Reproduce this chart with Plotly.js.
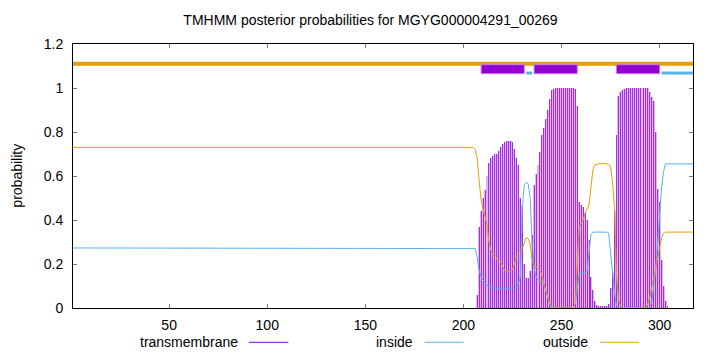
<!DOCTYPE html>
<html>
<head>
<meta charset="utf-8">
<script src="https://cdn.plot.ly/plotly-3.0.1.min.js"></script>
<style>
  html, body { margin: 0; padding: 0; background: #fff; }
  #chart { width: 720px; height: 352px; }
</style>
</head>
<body>
<div id="chart"></div>
<script>
// ---- data ----
const seqLength = 317;
const seqStart = 1;

// transmembrane posterior probability per residue, starting at residue 207
const tmFirstResidue = 207;
const tmProb = [
  0.06, 0.37, 0.44, 0.50, 0.535, 0.60, 0.66, 0.68, 0.69, 0.70,
  0.70, 0.715, 0.73, 0.745, 0.755, 0.76, 0.76, 0.76, 0.755, 0.725,
  0.68, 0.65, 0.50, 0.47, 0.20, 0.135, 0.135, 0.17, 0.33, 0.56,
  0.61, 0.65, 0.71, 0.785, 0.82, 0.86, 0.90, 0.95, 0.99, 0.995,
  1.0, 1.0, 1.0, 1.0, 1.0, 1.0, 1.0, 1.0, 1.0, 1.0,
  0.995, 0.92, 0.48, 0.47, 0.46, 0.43, 0.40, 0.31, 0.14, 0.08,
  0.03, 0.015, 0.01, 0.01, 0.008, 0.008, 0.01, 0.02, 0.09, 0.16,
  0.44, 0.785, 0.965, 0.98, 0.99, 0.995, 1.0, 1.0, 1.0, 1.0,
  1.0, 1.0, 1.0, 1.0, 1.0, 1.0, 1.0, 1.0, 0.98, 0.96,
  0.94, 0.80, 0.54, 0.48, 0.22, 0.10, 0.03, 0.01
];

// inside posterior probability (residue, value)
const insidePos = [1, 205, 206, 207, 208, 209, 210, 211, 212, 213, 215, 226, 227, 228, 229, 230, 231, 232, 233, 234, 235, 236, 237, 238, 240, 241, 242, 243, 244, 245, 256, 257, 258, 259, 261, 263, 264, 265, 266, 273, 274, 275, 276, 277, 278, 279, 295, 296, 297, 298, 299, 300, 301, 302, 303, 317];
const insideVal = [0.273, 0.273, 0.27, 0.23, 0.17, 0.14, 0.125, 0.115, 0.105, 0.095, 0.09, 0.09, 0.095, 0.11, 0.14, 0.45, 0.56, 0.57, 0.565, 0.50, 0.30, 0.18, 0.14, 0.13, 0.125, 0.11, 0.08, 0.04, 0.015, 0.0, 0.0, 0.02, 0.10, 0.155, 0.16, 0.165, 0.25, 0.335, 0.345, 0.345, 0.34, 0.25, 0.15, 0.07, 0.01, 0.0, 0.0, 0.03, 0.10, 0.18, 0.30, 0.44, 0.55, 0.62, 0.655, 0.655];

// outside posterior probability (residue, value)
const outsidePos = [1, 205, 206, 207, 208, 209, 210, 211, 212, 213, 214, 215, 216, 218, 219, 220, 221, 222, 224, 225, 226, 227, 228, 229, 230, 231, 232, 233, 234, 235, 236, 237, 238, 239, 240, 241, 242, 243, 244, 245, 247, 256, 257, 258, 259, 260, 261, 262, 263, 264, 265, 266, 267, 269, 273, 275, 276, 277, 278, 279, 280, 281, 293, 294, 295, 296, 297, 298, 299, 300, 301, 302, 303, 317];
const outsideVal = [0.73, 0.73, 0.72, 0.68, 0.58, 0.49, 0.45, 0.41, 0.38, 0.30, 0.26, 0.24, 0.23, 0.215, 0.21, 0.185, 0.17, 0.165, 0.165, 0.175, 0.20, 0.235, 0.25, 0.26, 0.27, 0.295, 0.32, 0.315, 0.29, 0.22, 0.19, 0.185, 0.18, 0.17, 0.15, 0.11, 0.08, 0.04, 0.02, 0.01, 0.0, 0.0, 0.02, 0.20, 0.37, 0.385, 0.40, 0.43, 0.45, 0.47, 0.55, 0.63, 0.65, 0.656, 0.656, 0.645, 0.57, 0.45, 0.15, 0.04, 0.01, 0.0, 0.0, 0.02, 0.05, 0.09, 0.13, 0.18, 0.23, 0.28, 0.32, 0.34, 0.345, 0.345];

// predicted topology
const tmSegStart = [209, 236, 278];
const tmSegEnd = [231, 258, 300];
const insideSegStart = [232, 301];
const insideSegEnd = [235, 317];
const outsideSegStart = [1];
const outsideSegEnd = [317];

const xTicks = [50, 100, 150, 200, 250, 300];
const yTicks = [0, 0.2, 0.4, 0.6, 0.8, 1, 1.2];
const yTickText = ['0', '0.2', '0.4', '0.6', '0.8', '1', '1.2'];

const titleText = 'TMHMM posterior probabilities for MGYG000004291_00269';
const legendNames = ['transmembrane', 'inside', 'outside'];

// ---- styles ----
const cTM = '#9400d3';
const cIn = '#56b4e9';
const cOut = '#e69f00';
const font = 'Liberation Sans, Arial, sans-serif';

const tmX = tmProb.map((v, i) => tmFirstResidue + i);

function segXY(starts, ends, level) {
  const x = [], y = [];
  starts.forEach((s, i) => { x.push(s, ends[i], null); y.push(level, level, null); });
  return {x, y};
}
const outSeg = segXY(outsideSegStart, outsideSegEnd, 1.11);
const inSeg = segXY(insideSegStart, insideSegEnd, 1.068);

const traces = [
  {
    type: 'bar', x: tmX, y: tmProb, width: 1,
    marker: { color: '#e2b4f3', line: { width: 0 } },
    hoverinfo: 'skip', showlegend: false
  },
  {
    type: 'bar', x: tmX, y: tmProb, width: 0.5,
    marker: { color: '#a12ee0', line: { width: 0 } },
    hoverinfo: 'skip', showlegend: false
  },
  {
    type: 'scatter', mode: 'lines', x: insidePos, y: insideVal,
    line: { color: cIn, width: 1 }, showlegend: false
  },
  {
    type: 'scatter', mode: 'lines', x: outsidePos, y: outsideVal,
    line: { color: cOut, width: 1 }, showlegend: false
  },
  {
    type: 'scatter', mode: 'lines', x: outSeg.x, y: outSeg.y,
    line: { color: cOut, width: 4 }, showlegend: false
  },
  {
    type: 'scatter', mode: 'lines', x: inSeg.x, y: inSeg.y,
    line: { color: cIn, width: 3 }, showlegend: false
  }
];

const shapes = tmSegStart.map((s, i) => ({
  type: 'rect', xref: 'x', yref: 'y', x0: s, x1: tmSegEnd[i], y0: 1.065, y1: 1.106,
  fillcolor: cTM, line: { color: '#c77ee8', width: 1 }, layer: 'above'
}));

// legend (gnuplot style: text then sample line)
const L = 73.3, W = 619.4, B = 307.7, H = 264;
const px2x = p => (p - L) / W;
const py2y = p => (B - p) / H;
const legendTextRight = [240, 414.5, 590];
const legendLineFrom = [249, 424.5, 599.5];
const legendLineTo = [288.5, 463.5, 638.5];
const legendColors = [cTM, cIn, cOut];
const legendY = 342;
const annotations = [];
legendNames.forEach((n, i) => {
  annotations.push({
    xref: 'paper', yref: 'paper', x: px2x(legendTextRight[i]), y: py2y(legendY),
    xanchor: 'right', yanchor: 'middle', text: n, showarrow: false,
    font: { family: font, size: 14, color: '#000' }
  });
  shapes.push({
    type: 'line', xref: 'paper', yref: 'paper',
    x0: px2x(legendLineFrom[i]), x1: px2x(legendLineTo[i]),
    y0: py2y(legendY), y1: py2y(legendY),
    line: { color: legendColors[i], width: 1 }
  });
});
annotations.push({
  xref: 'paper', yref: 'paper', x: px2x(17), y: 0.5, textangle: -90,
  xanchor: 'center', yanchor: 'middle', text: 'probability', showarrow: false,
  font: { family: font, size: 14, color: '#000' }
});

const axisCommon = {
  showgrid: false, zeroline: false, showline: true, linecolor: '#000', linewidth: 1,
  mirror: 'ticks', ticks: 'inside', ticklen: 4, tickcolor: '#777', tickwidth: 1,
  tickfont: { family: font, size: 14, color: '#000' }
};

const layout = {
  width: 720, height: 352,
  margin: { l: 73.3, r: 27.3, t: 43.7, b: 44.3, pad: 0 },
  paper_bgcolor: '#fff', plot_bgcolor: '#fff',
  showlegend: false,
  barmode: 'overlay',
  bargap: 0,
  title: {
    text: titleText, xref: 'container', yref: 'container',
    x: 370.5 / 720, xanchor: 'center', y: 1 - 20 / 352, yanchor: 'middle',
    font: { family: font, size: 14, color: '#000' }
  },
  xaxis: Object.assign({}, axisCommon, {
    range: [seqStart, seqLength], tickmode: 'array', tickvals: xTicks,
    ticklabelstandoff: 4
  }),
  yaxis: Object.assign({}, axisCommon, {
    range: [0, 1.2], tickmode: 'array', tickvals: yTicks, ticktext: yTickText,
    ticklabelstandoff: 6
  }),
  shapes: shapes,
  annotations: annotations
};

Plotly.newPlot('chart', traces, layout, { staticPlot: true, displayModeBar: false });
</script>
</body>
</html>
